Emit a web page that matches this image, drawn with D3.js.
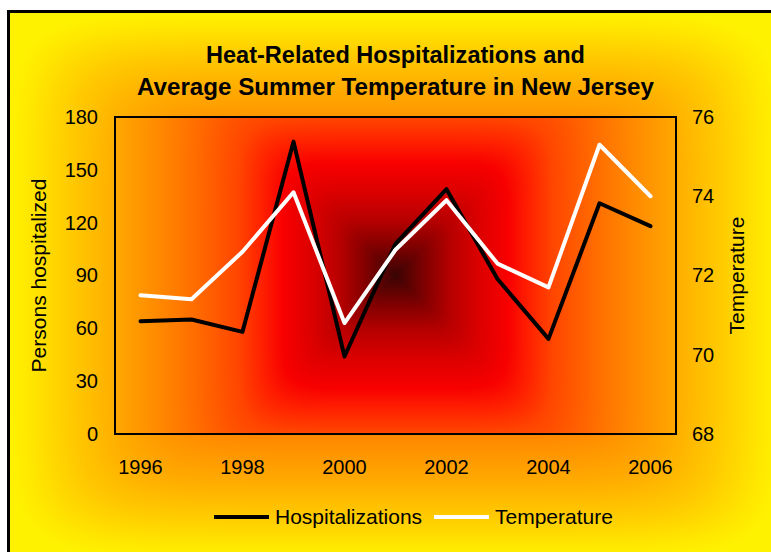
<!DOCTYPE html>
<html><head><meta charset="utf-8">
<script src="https://cdn.jsdelivr.net/npm/d3@7"></script>
<style>
body{margin:0;background:#fff;}
svg{display:block;}
text{font-family:"Liberation Sans",Arial,Helvetica,sans-serif;fill:#000;}
</style>
</head><body>
<svg id="c" width="771" height="552"></svg>
<script>
// ---- data ----
const years = [1996,1997,1998,1999,2000,2001,2002,2003,2004,2005,2006];
const hospitalizations = [64,65,58,166,44,108,139,88,54,131,118];
const temperature = [71.5,71.4,72.6,74.1,70.8,72.65,73.9,72.3,71.7,75.3,74.0];
const leftTicks = [0,30,60,90,120,150,180];
const rightTicks = [68,70,72,74,76];
const xTickYears = [1996,1998,2000,2002,2004,2006];
const titleLines = ["Heat-Related Hospitalizations and","Average Summer Temperature in New Jersey"];
const seriesNames = ["Hospitalizations","Temperature"];

// ---- layout ----
const W = 771, H = 552;
const svg = d3.select("#c");
const P = {x0:115, y0:117, x1:676, y1:434};
const C = {x0:8.5, y0:11.5, x1:782, y1:560};
const pcx=(P.x0+P.x1)/2, pcy=(P.y0+P.y1)/2, ph=(P.x1-P.x0)/2;

const chartStops = [[0,"#FFF200"],[0.05,"#FFE800"],[0.16,"#FFCA00"],[0.28,"#FFAC00"],[0.4,"#FF9200"],[0.6,"#FF6C00"],[1,"#FF3000"]];
const plotStops = [[0,"#FFA800"],[0.15,"#FF8A00"],[0.27,"#FF7000"],[0.44,"#FF4500"],[0.52,"#FF2200"],[0.6,"#F80000"],
   [0.7,"#DC0000"],[0.8,"#B80000"],[0.88,"#8A0000"],[0.95,"#5C0202"],[1,"#3A0404"]];

// background "from center" gradients painted on a canvas, placed into the svg as an image
function colorScale(stops){
  return d3.scaleLinear().domain(stops.map(s=>s[0])).range(stops.map(s=>s[1]))
    .interpolate(d3.interpolateRgb).clamp(true);
}
const cvs = document.createElement("canvas");
cvs.width = W; cvs.height = H;
const ctx = cvs.getContext("2d");
const img = ctx.createImageData(W,H);
const cs = colorScale(chartStops), ps = colorScale(plotStops);
const cache = new Map();
function rgbOf(scale, key, f){
  const k = key + Math.round(f*1000);
  if(!cache.has(k)){ const c = d3.rgb(scale(Math.round(f*1000)/1000)); cache.set(k,[c.r,c.g,c.b]); }
  return cache.get(k);
}
const p = 8;
const ccx=(C.x0+C.x1)/2, ccy=(C.y0+C.y1)/2, chw=(C.x1-C.x0)/2, chh=(C.y1-C.y0)/2;
for(let yy=0; yy<H; yy++){
  for(let xx=0; xx<W; xx++){
    const px=xx+0.5, py=yy+0.5;
    let col;
    if(px>=P.x0 && px<=P.x1 && py>=P.y0 && py<=P.y1){
      const dx=Math.abs(px-pcx)/ph, dy=Math.abs(py-pcy)/ph;
      const d=Math.pow(Math.pow(dx,p)+Math.pow(dy,p),1/p);
      col = rgbOf(ps,"p",Math.max(0,1-d));
    } else {
      const dx=Math.abs(px-ccx)/chw, dy=Math.abs(py-ccy)/chh;
      const d=Math.pow(Math.pow(dx,p)+Math.pow(dy,p),1/p);
      col = rgbOf(cs,"c",Math.max(0,1-d));
    }
    const i=(yy*W+xx)*4;
    img.data[i]=col[0]; img.data[i+1]=col[1]; img.data[i+2]=col[2]; img.data[i+3]=255;
  }
}
ctx.putImageData(img,0,0);
svg.append("defs").append("clipPath").attr("id","cclip").append("rect")
  .attr("x",C.x0).attr("y",C.y0).attr("width",C.x1-C.x0).attr("height",C.y1-C.y0);
svg.append("image").attr("href",cvs.toDataURL()).attr("x",0).attr("y",0)
  .attr("width",W).attr("height",H).attr("clip-path","url(#cclip)");
svg.append("rect").attr("x",C.x0).attr("y",C.y0).attr("width",C.x1-C.x0).attr("height",C.y1-C.y0)
  .attr("fill","none").attr("stroke","#000").attr("stroke-width",3);

// scales
const x = d3.scaleBand().domain(years).range([P.x0,P.x1]);
const xc = d => x(d)+x.bandwidth()/2;
const yL = d3.scaleLinear().domain([0,180]).range([P.y1,P.y0]);
const yR = d3.scaleLinear().domain([68,76]).range([P.y1,P.y0]);

// plot border
svg.append("rect").attr("x",P.x0).attr("y",P.y0).attr("width",P.x1-P.x0).attr("height",P.y1-P.y0)
  .attr("fill","none").attr("stroke","#000").attr("stroke-width",2);

// axes
function styleAxis(g){
  g.select(".domain").remove();
  g.selectAll("line").remove();
  g.selectAll("text").attr("font-size",20).attr("font-family",null).attr("fill","#000");
}
svg.append("g").attr("transform",`translate(${P.x0},0)`)
  .call(d3.axisLeft(yL).tickValues(leftTicks).tickSize(0).tickPadding(17)).call(styleAxis);
svg.append("g").attr("transform",`translate(${P.x1},0)`)
  .call(d3.axisRight(yR).tickValues(rightTicks).tickSize(0).tickPadding(16)).call(styleAxis);
svg.append("g").attr("transform",`translate(0,${P.y1})`)
  .call(d3.axisBottom(x).tickValues(xTickYears).tickSize(0).tickPadding(26)).call(styleAxis);

// axis titles
svg.append("text").attr("transform",`translate(46,${pcy}) rotate(-90)`)
  .attr("text-anchor","middle").attr("font-size",21).text("Persons hospitalized");
svg.append("text").attr("transform",`translate(744,${pcy}) rotate(-90)`)
  .attr("text-anchor","middle").attr("font-size",21).text("Temperature");

// title
svg.append("text").attr("x",pcx).attr("y",63).attr("text-anchor","middle")
  .attr("font-size",23).attr("font-weight","bold")
  .attr("textLength",379).attr("lengthAdjust","spacingAndGlyphs").text(titleLines[0]);
svg.append("text").attr("x",pcx).attr("y",95).attr("text-anchor","middle")
  .attr("font-size",23).attr("font-weight","bold")
  .attr("textLength",517).attr("lengthAdjust","spacingAndGlyphs").text(titleLines[1]);

// lines
const lineH = d3.line().x((d,i)=>xc(years[i])).y(d=>yL(d));
const lineT = d3.line().x((d,i)=>xc(years[i])).y(d=>yR(d));
svg.append("path").datum(hospitalizations).attr("d",lineH).attr("fill","none")
  .attr("stroke","#000").attr("stroke-width",4).attr("stroke-linejoin","round").attr("stroke-linecap","round");
svg.append("path").datum(temperature).attr("d",lineT).attr("fill","none")
  .attr("stroke","#fff").attr("stroke-width",4).attr("stroke-linejoin","round").attr("stroke-linecap","round");

// legend
const legend = [{name:seriesNames[0],color:"#000",x:214},{name:seriesNames[1],color:"#fff",x:434}];
legend.forEach(l=>{
  svg.append("line").attr("x1",l.x).attr("x2",l.x+55).attr("y1",517).attr("y2",517)
    .attr("stroke",l.color).attr("stroke-width",4);
  svg.append("text").attr("x",l.x+61).attr("y",524).attr("font-size",21).text(l.name);
});
</script>
</body></html>
